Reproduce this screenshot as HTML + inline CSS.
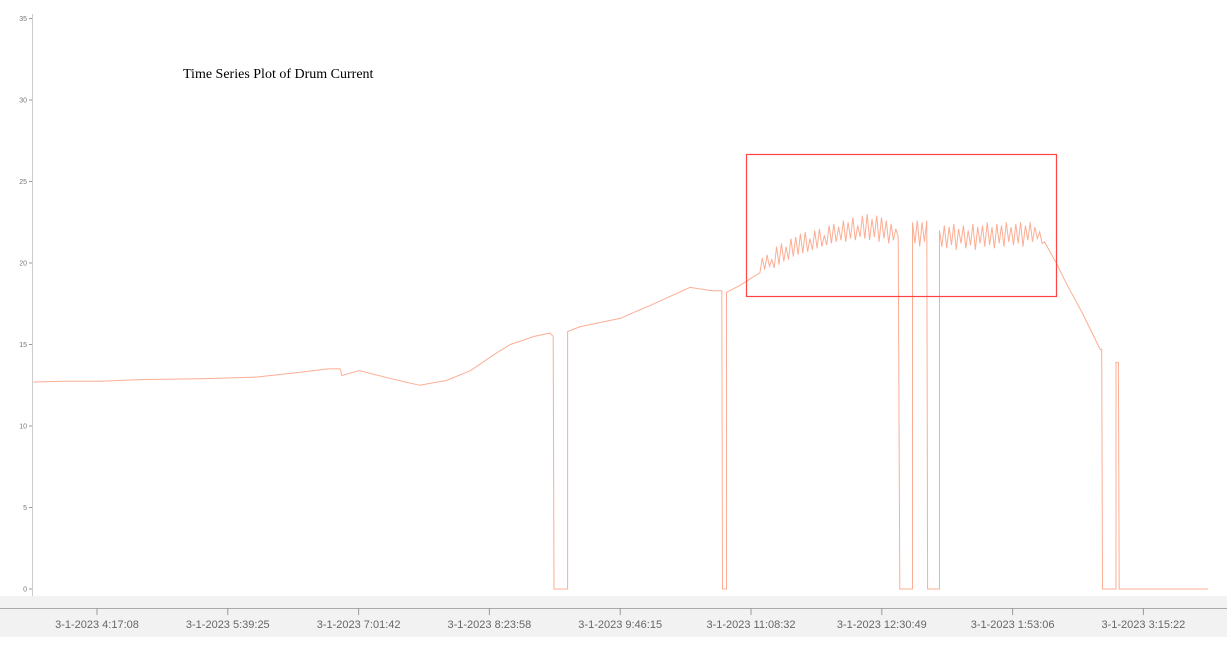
<!DOCTYPE html>
<html><head><meta charset="utf-8"><style>
body{margin:0;background:#fff;width:1227px;height:647px;overflow:hidden;font-family:"Liberation Sans",sans-serif}
</style></head><body>
<svg id="chart" width="1227" height="647" viewBox="0 0 1227 647">
<rect x="0" y="596" width="1227" height="41" fill="#f2f2f2"/>
<line x1="0" y1="608.5" x2="1227" y2="608.5" stroke="#aaa"/>
<line x1="32.5" y1="14" x2="32.5" y2="596" stroke="#ccc"/>
<text x="183" y="78" font-family="Liberation Serif, serif" font-size="14" fill="#000">Time Series Plot of Drum Current</text>
<g id="yaxis"></g>
<g id="xaxis"></g>
<path id="series" fill="none" stroke="#fcae94" stroke-width="1"/>
<rect x="746.5" y="154.5" width="310" height="142" fill="none" stroke="#f44" stroke-width="1.2"/>
</svg>
<script>
const yTicks=[0,5,10,15,20,25,30,35];
const xTickMinutes=[0,82.28,164.57,246.83,329.12,411.4,493.68,575.97,658.23];
const xTickLabels=["3-1-2023 4:17:08","3-1-2023 5:39:25","3-1-2023 7:01:42","3-1-2023 8:23:58","3-1-2023 9:46:15","3-1-2023 11:08:32","3-1-2023 12:30:49","3-1-2023 1:53:06","3-1-2023 3:15:22"];
const segA=[[-40,12.7],[-20,12.75],[2,12.75],[30,12.85],[65,12.9],[100,13.0],[128,13.3],[145,13.5],[153,13.5],[154,13.1],[165,13.4],[185,12.9],[203,12.5],[220,12.8],[235,13.4],[250,14.4],[260,15.0],[275,15.5],[285,15.7],[287,15.5],[287.5,0],[296,0],[296,15.8],[304,16.1],[329,16.6],[348,17.4],[373,18.5],[387,18.3],[393,18.3],[393.5,0],[396,0],[396,18.2],[404,18.6],[412,19.1]];
const osc1Start=417, oscStep=1.5;
const osc1=[19.4,20.3,19.6,20.5,19.8,20.2,19.7,21.0,19.9,21.2,20.1,21.0,20.2,21.5,20.4,21.6,20.5,21.8,20.6,21.9,20.7,21.5,20.8,22.0,20.9,22.1,21.0,21.7,21.1,22.3,21.2,22.4,21.3,22.2,21.4,22.6,21.3,22.5,21.5,22.8,21.4,22.3,21.6,22.9,21.5,23.0,21.4,22.7,21.6,22.9,21.3,22.8,21.5,22.6,21.2,22.4,21.4,22.1,21.6];
const segB=[[505,0],[513,0],[513,22.5],[514.5,21.2],[516,22.6],[517.5,21.0],[519,22.5],[520.5,21.3],[522,22.6],[522.5,0],[530,0]];
const osc2Start=530;
const osc2=[22.0,21.0,22.3,20.9,22.2,21.1,22.4,20.8,22.1,21.2,22.3,20.9,22.0,21.1,22.4,20.8,22.2,21.2,22.3,21.0,22.5,21.1,22.2,20.9,22.4,21.2,22.3,21.0,22.5,21.3,22.2,21.1,22.4,21.2,22.5,21.0,22.3,21.4,22.5,21.3,22.2,21.5,21.9,21.2];
const segC=[[596,21.3],[600,20.6],[604,19.9],[610,18.7],[620,16.9],[631,14.7],[632,14.7],[632.5,0],[641,0],[641,13.9],[642.5,13.9],[643,0],[699,0]];

const NS="http://www.w3.org/2000/svg";
const xs=m=>97+m*1.5897;
const ys=v=>589-v*16.3;
const yg=document.getElementById('yaxis');
yTicks.forEach(v=>{
  const l=document.createElementNS(NS,'line');
  
  
  l.setAttribute('x1',29);l.setAttribute('x2',32);l.setAttribute('y1',ys(v));l.setAttribute('y2',ys(v));l.setAttribute('stroke','#999');
  yg.appendChild(l);
  const t=document.createElementNS(NS,'text');
  
  
  t.setAttribute('x',27);t.setAttribute('y',ys(v)+2.5);t.setAttribute('text-anchor','end');t.setAttribute('font-size','7');t.setAttribute('fill','#777');
  t.textContent=v;yg.appendChild(t);
});
const xg=document.getElementById('xaxis');
xTickMinutes.forEach((m,i)=>{
  const x=xs(m);
  const l=document.createElementNS(NS,'line');
  
  
  l.setAttribute('x1',x);l.setAttribute('x2',x);l.setAttribute('y1',608);l.setAttribute('y2',615);l.setAttribute('stroke','#999');
  xg.appendChild(l);
  const t=document.createElementNS(NS,'text');
  
  
  t.setAttribute('x',x);t.setAttribute('y',628);t.setAttribute('text-anchor','middle');t.setAttribute('font-size','11');t.setAttribute('fill','#666');
  t.textContent=xTickLabels[i];xg.appendChild(t);
});
let pts=[].concat(segA);
osc1.forEach((v,i)=>pts.push([osc1Start+i*oscStep,v]));
pts=pts.concat(segB);
osc2.forEach((v,i)=>pts.push([osc2Start+i*oscStep,v]));
pts=pts.concat(segC);
let d='M'+xs(pts[0][0]).toFixed(1)+','+ys(pts[0][1]).toFixed(1);
for(let i=1;i<pts.length;i++){
  d+='L'+xs(pts[i][0]).toFixed(1)+','+ys(pts[i][1]).toFixed(1);
}
document.getElementById('series').setAttribute('d',d);
</script>
</body></html>
